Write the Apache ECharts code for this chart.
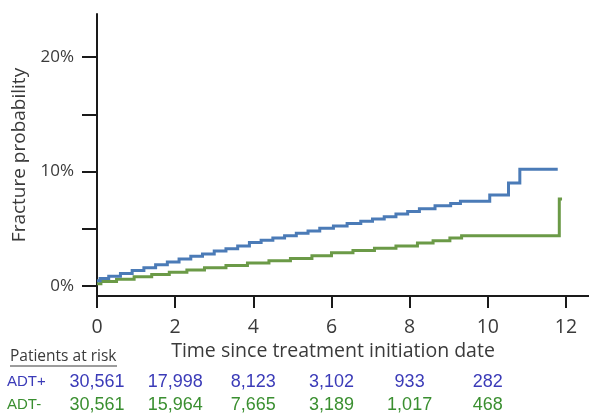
<!DOCTYPE html>
<html>
<head>
<meta charset="utf-8">
<script src="https://cdn.jsdelivr.net/npm/echarts@6/dist/echarts.min.js"></script>
<style>
html,body{margin:0;padding:0;background:#fff;}
#chart{width:589px;height:414px;}
</style>
</head>
<body>
<div id="chart"></div>
<script>
// Kaplan-Meier style cumulative fracture probability (%), [time, value] step points
const adtPlus = [
  [0,0.45],[0.08,0.65],[0.3,0.85],[0.6,1.1],[0.9,1.35],[1.2,1.6],[1.5,1.85],[1.8,2.1],
  [2.1,2.35],[2.4,2.6],[2.7,2.8],[3.0,3.05],[3.3,3.25],[3.6,3.5],[3.9,3.8],[4.2,4.0],
  [4.5,4.2],[4.8,4.4],[5.1,4.6],[5.4,4.8],[5.7,5.05],[6.05,5.25],[6.4,5.45],[6.75,5.65],
  [7.05,5.85],[7.35,6.05],[7.65,6.3],[7.95,6.5],[8.25,6.75],[8.65,7.0],[9.05,7.2],
  [9.3,7.4],[10.05,7.95],[10.53,9.0],[10.82,10.2],[11.79,10.2]
];
const adtMinus = [
  [0,0.2],[0.1,0.4],[0.5,0.6],[0.95,0.8],[1.4,1.0],[1.85,1.2],[2.3,1.4],[2.75,1.6],
  [3.3,1.8],[3.85,2.0],[4.4,2.2],[4.95,2.4],[5.5,2.65],[6.0,2.9],[6.55,3.1],[7.1,3.3],
  [7.65,3.5],[8.2,3.75],[8.6,3.95],[9.03,4.2],[9.33,4.4],[11.83,7.6],[11.9,7.6]
];
const xTicks = [0,2,4,6,8,10,12];
const yTicks = [0,5,10,15,20];
const yLabels = [0,10,20];
const riskTimes = [0,2,4,6,8,10];
const riskPlus = [30561,17998,8123,3102,933,282];
const riskMinus = [30561,15964,7665,3189,1017,468];

const textColor = '#3a3a3a';
const blueLine = '#4b7bb7';
const greenLine = '#6b9a47';
const blueText = '#3b3bb8';
const greenText = '#3a8f30';
const narrow = "'Liberation Sans Narrow','Liberation Sans',Arial,sans-serif";

const chart = echarts.init(document.getElementById('chart'), null, {renderer:'canvas'});

function riskAxis(values, color, offset) {
  return {
    type:'value', gridIndex:0, position:'bottom', offset: offset,
    min:0, max:12.59,
    axisLine:{show:false}, axisTick:{show:false}, splitLine:{show:false},
    axisLabel:{
      customValues: riskTimes, margin:8,
      color: color, fontFamily: narrow, fontSize:18,
      formatter: v => {
        const i = riskTimes.indexOf(v);
        return i >= 0 ? values[i].toLocaleString('en-US') : '';
      }
    }
  };
}

chart.setOption({
  animation:false,
  backgroundColor:'#fff',
  grid:{left:97, right:0, top:14, bottom:118, containLabel:false},
  xAxis:[
    {
      type:'value', min:0, max:12.59,
      name:'Time since treatment initiation date',
      nameLocation:'middle', nameGap:34,
      nameTextStyle:{color:textColor, fontFamily:'Open Sans', fontSize:19.5, padding:[0,20,0,0]},
      axisLine:{show:true, onZero:false, lineStyle:{color:'#1a1a1a', width:2}},
      axisTick:{show:true, customValues:xTicks, length:12, lineStyle:{color:'#1a1a1a', width:2}},
      axisLabel:{customValues:xTicks, margin:21, color:textColor, fontFamily:'Open Sans', fontSize:19.5},
      splitLine:{show:false}
    },
    riskAxis(riskPlus, blueText, 69),
    riskAxis(riskMinus, greenText, 92)
  ],
  yAxis:{
    type:'value', min:-0.873, max:23.76,
    name:'Fracture probability', nameLocation:'middle', nameGap:68,
    nameTextStyle:{color:textColor, fontFamily:'Open Sans', fontSize:19},
    axisLine:{show:true, onZero:false, lineStyle:{color:'#1a1a1a', width:2}},
    axisTick:{show:true, customValues:yTicks, length:15, lineStyle:{color:'#1a1a1a', width:2}},
    axisLabel:{customValues:yLabels, margin:23, color:textColor, fontFamily:'Open Sans', fontSize:17,
      formatter: v => v + '%'},
    splitLine:{show:false}
  },
  series:[
    {name:'ADT+', type:'line', step:'end', data:adtPlus, showSymbol:false, symbol:'none',
      lineStyle:{color:blueLine, width:3, join:'miter', cap:'butt'}, z:3},
    {name:'ADT-', type:'line', step:'end', data:adtMinus, showSymbol:false, symbol:'none',
      lineStyle:{color:greenLine, width:3, join:'miter', cap:'butt'}, z:2}
  ],
  graphic:[
    {type:'text', left:10, top:349, style:{text:'Patients at risk', fill:textColor, font:"15.5px 'Open Sans'"}},
    {type:'line', shape:{x1:10, y1:366, x2:117, y2:366}, style:{stroke:textColor, lineWidth:1.2}},
    {type:'text', left:7, top:374, style:{text:'ADT+', fill:blueText, font:"15px "+narrow}},
    {type:'text', left:7, top:397, style:{text:'ADT-', fill:greenText, font:"15px "+narrow}}
  ]
});
</script>
</body>
</html>
